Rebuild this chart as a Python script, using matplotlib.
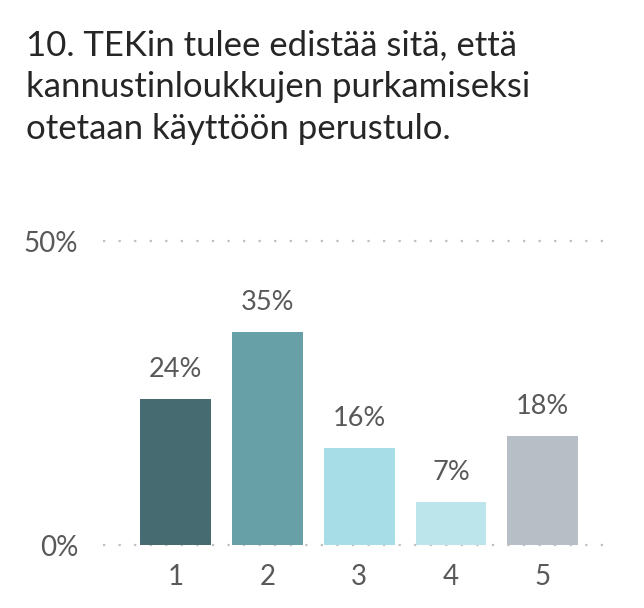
import matplotlib
matplotlib.use("Agg")
import matplotlib.pyplot as plt

title = "10. TEKin tulee edistää sitä, että\nkannustinloukkujen purkamiseksi\notetaan käyttöön perustulo."
categories = ["1", "2", "3", "4", "5"]
values = [24, 35, 16, 7, 18]
colors = ["#466B70", "#68A0A8", "#A6DDE6", "#BCE5EB", "#B7BEC5"]
yticks = [0, 50]
yticklabels = ["0%", "50%"]

plt.rcParams['font.family'] = ['Lato', 'DejaVu Sans']
txt = "#595959"

fig = plt.figure(figsize=(6.44, 6.08), dpi=100)
ax = fig.add_axes([0.16, 0.1036, 0.787, 0.5])

x = list(range(1, len(categories) + 1))
bars = ax.bar(x, values, width=0.77, color=colors, zorder=3)
for xi, v in zip(x, values):
    ax.text(xi, v + 2.8, f"{v}%", ha="center", va="bottom", fontsize=19.5, color=txt)

for yt in yticks:
    ax.axhline(yt, color="#BFBFBF", linestyle=(0, (1, 6)), linewidth=1.6, zorder=1, clip_on=False)

ax.set_xlim(0.21, 5.73)
ax.set_ylim(0, 50)
ax.set_xticks(x)
ax.set_xticklabels(categories, fontsize=20, color=txt)
ax.set_yticks(yticks)
ax.set_yticklabels(yticklabels, fontsize=20, color=txt)
ax.tick_params(length=0)
ax.tick_params(axis="x", pad=14)
ax.tick_params(axis="y", pad=18)
for s in ax.spines.values():
    s.set_visible(False)

fig.text(0.04, 0.952, title, ha="left", va="top", fontsize=25, color="#262626", linespacing=1.38)

fig.savefig("out.png", dpi=100)
